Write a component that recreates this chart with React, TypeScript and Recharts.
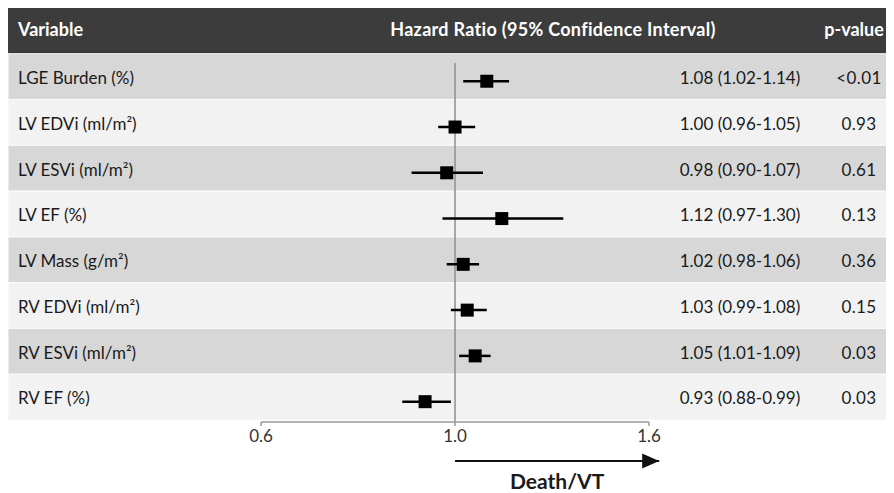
import {
  ComposedChart,
  Scatter,
  ErrorBar,
  XAxis,
  YAxis,
  ReferenceArea,
  ReferenceLine,
  ReferenceDot,
} from "recharts";

const variables = [
  "LGE Burden (%)",
  "LV EDVi (ml/m²)",
  "LV ESVi (ml/m²)",
  "LV EF (%)",
  "LV Mass (g/m²)",
  "RV EDVi (ml/m²)",
  "RV ESVi (ml/m²)",
  "RV EF (%)",
];
const hazardRatio = [1.08, 1.0, 0.98, 1.12, 1.02, 1.03, 1.05, 0.93];
const ciLow = [1.02, 0.96, 0.9, 0.97, 0.98, 0.99, 1.01, 0.88];
const ciHigh = [1.14, 1.05, 1.07, 1.3, 1.06, 1.08, 1.09, 0.99];
const pValues = ["<0.01", "0.93", "0.61", "0.13", "0.36", "0.15", "0.03", "0.03"];
const headers = ["Variable", "Hazard Ratio (95% Confidence Interval)", "p-value"];
// log axis, symmetric around 1: the left tick is 1/1.6, printed as 0.6
const xTicks = [1 / 1.6, 1.0, 1.6];
const arrowFrom = 1.0;
const arrowTo = 1.64;
const outcomeLabel = "Death/VT";

const FONT = "Lato, 'Open Sans', sans-serif";
const HEADER_BG = "#3c3c3c";
const ROW_DARK = "#d7d7d7";
const ROW_LIGHT = "#f2f2f2";

// rows live on a numeric y scale: header is [0,1], row i is [i+1, i+2]
const Y_MAX = 9.044;
const ARROW_Y = 9.895;
const LABEL_Y = 10.4;
const MARK_SHIFT = 0.1;

const data = hazardRatio.map((hr, i) => ({
  hr,
  row: i + 1.5 + MARK_SHIFT,
  ci: [hr - ciLow[i], ciHigh[i] - hr],
}));

function getBox(p: any) {
  return p && p.viewBox ? p.viewBox : p;
}

function HeaderText(p: any) {
  const { x, y, width, height } = getBox(p);
  const cy = y + height / 2 + 1;
  const right = x + width;
  return (
    <g fontFamily={FONT} fontSize={18} fontWeight={700} fill="#ffffff">
      <text x={x + 10} y={cy} dominantBaseline="middle" textAnchor="start">
        {headers[0]}
      </text>
      <text x={right - 341} y={cy} dominantBaseline="middle" textAnchor="middle" letterSpacing={0.3}>
        {headers[1]}
      </text>
      <text x={right - 40} y={cy} dominantBaseline="middle" textAnchor="middle">
        {headers[2]}
      </text>
    </g>
  );
}

function RowText(p: any) {
  const { row } = p;
  const { x, y, width, height } = getBox(p);
  const cy = y + height / 2 + 3;
  const right = x + width;
  const hrText = `${hazardRatio[row].toFixed(2)} (${ciLow[row].toFixed(2)}-${ciHigh[row].toFixed(2)})`;
  return (
    <g fontFamily={FONT} fontSize={17} fill="#1a1a1a">
      <text x={x + 10} y={cy} dominantBaseline="middle" textAnchor="start">
        {variables[row]}
      </text>
      <text x={right - 154} y={cy} dominantBaseline="middle" textAnchor="middle">
        {hrText}
      </text>
      <text x={right - 35} y={cy} dominantBaseline="middle" textAnchor="middle" letterSpacing={0.4}>
        {pValues[row]}
      </text>
    </g>
  );
}

function SquareMarker(props: any) {
  const { cx, cy } = props;
  return <rect x={cx - 6.5} y={cy - 6.5} width={13} height={13} fill="#000" />;
}

export default function App() {
  return (
    <ComposedChart
      width={886}
      height={485}
      data={data}
      margin={{ top: 0, right: 0, bottom: 41, left: 0 }}
    >
      <XAxis
        type="number"
        dataKey="hr"
        scale="log"
        domain={[0.3385, 2.897]}
        allowDataOverflow
        ticks={xTicks}
        interval={0}
        tickFormatter={(v: number) => v.toFixed(1)}
        axisLine={false}
        tickLine={{ stroke: "#9a9a9a", strokeWidth: 1.5 }}
        tickSize={4}
        tickMargin={4}
        height={30}
        tick={{ fill: "#333", fontSize: 17, fontFamily: FONT }}
      />
      <YAxis
        yAxisId="left"
        type="number"
        dataKey="row"
        domain={[0, Y_MAX]}
        reversed
        allowDataOverflow
        hide
      />

      <ReferenceArea
        yAxisId="left"
        y1={0}
        y2={1}
        fill={HEADER_BG}
        fillOpacity={1}
        ifOverflow="visible"
        label={(p: any) => <HeaderText {...p} />}
      />
      {variables.map((v, i) => (
        <ReferenceArea
          key={v}
          yAxisId="left"
          y1={i + 1}
          y2={i + 2}
          fill={i % 2 === 0 ? ROW_DARK : ROW_LIGHT}
          fillOpacity={1}
          stroke="#fbfbfb"
          strokeWidth={1}
          ifOverflow="visible"
          label={(p: any) => <RowText {...p} row={i} />}
        />
      ))}

      <ReferenceLine
        yAxisId="left"
        segment={[
          { x: 1.0, y: 1.2 },
          { x: 1.0, y: Y_MAX },
        ]}
        stroke="#8f8f8f"
        strokeWidth={1.5}
        ifOverflow="visible"
      />
      <ReferenceLine
        yAxisId="left"
        segment={[
          { x: xTicks[0], y: Y_MAX },
          { x: xTicks[xTicks.length - 1], y: Y_MAX },
        ]}
        stroke="#9a9a9a"
        strokeWidth={1.5}
        ifOverflow="visible"
      />

      <Scatter
        yAxisId="left"
        dataKey="row"
        fill="#000"
        shape={<SquareMarker />}
        isAnimationActive={false}
      >
        <ErrorBar
          dataKey="ci"
          direction="x"
          width={0}
          stroke="#000"
          strokeWidth={2.5}
          isAnimationActive={false}
        />
      </Scatter>

      <ReferenceLine
        yAxisId="left"
        segment={[
          { x: arrowFrom, y: ARROW_Y },
          { x: arrowTo, y: ARROW_Y },
        ]}
        stroke="#111"
        strokeWidth={2}
        ifOverflow="visible"
      />
      <ReferenceDot
        yAxisId="left"
        x={arrowTo}
        y={ARROW_Y}
        ifOverflow="visible"
        shape={(p: any) => (
          <path
            d={`M${p.cx},${p.cy} L${p.cx - 17},${p.cy - 7.5} L${p.cx - 17},${p.cy + 7.5} Z`}
            fill="#111"
          />
        )}
      />
      <ReferenceDot
        yAxisId="left"
        x={Math.sqrt(arrowFrom * arrowTo)}
        y={LABEL_Y}
        ifOverflow="visible"
        shape={(p: any) => (
          <text
            x={p.cx}
            y={p.cy}
            textAnchor="middle"
            dominantBaseline="middle"
            fontFamily={FONT}
            fontSize={21}
            fontWeight={700}
            fill="#1a1a1a"
          >
            {outcomeLabel}
          </text>
        )}
      />
    </ComposedChart>
  );
}
